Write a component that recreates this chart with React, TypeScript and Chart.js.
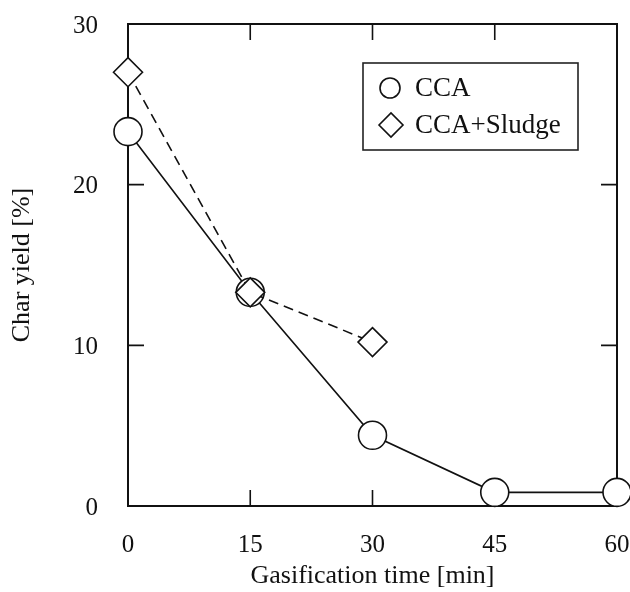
import React, { useEffect, useRef } from "react";
import { Chart, registerables } from "chart.js";

Chart.register(...registerables);

const times = [0, 15, 30, 45, 60];
const ccaYield = [23.3, 13.3, 4.4, 0.85, 0.85];
const sludgeTimes = [0, 15, 30];
const sludgeYield = [27.0, 13.3, 10.2];
const xTicks = [0, 15, 30, 45, 60];
const yTicks = [0, 10, 20, 30];
const seriesLabels = ["CCA", "CCA+Sludge"];

const FONT = "'Liberation Serif', 'Times New Roman', serif";

const zeroPad = (s: any) => {
  s.paddingTop = 0;
  s.paddingBottom = 0;
  s.paddingLeft = 0;
  s.paddingRight = 0;
};

const framePlugin = {
  id: "frame",
  beforeDatasetsDraw(chart: any) {
    const { ctx, chartArea } = chart;
    const { left, right, top, bottom } = chartArea;
    const xs = chart.scales.x;
    const ys = chart.scales.y;
    const tl = 16;
    ctx.save();
    ctx.strokeStyle = "#111";
    ctx.lineWidth = 2;
    ctx.strokeRect(left, top, right - left, bottom - top);
    ctx.lineWidth = 1.6;
    ctx.beginPath();
    xTicks.forEach((v) => {
      const px = xs.getPixelForValue(v);
      if (v === xs.min || v === xs.max) return;
      ctx.moveTo(px, bottom);
      ctx.lineTo(px, bottom - tl);
      ctx.moveTo(px, top);
      ctx.lineTo(px, top + tl);
    });
    yTicks.forEach((v) => {
      const py = ys.getPixelForValue(v);
      if (v === ys.min || v === ys.max) return;
      ctx.moveTo(left, py);
      ctx.lineTo(left + tl, py);
      ctx.moveTo(right, py);
      ctx.lineTo(right - tl, py);
    });
    ctx.stroke();
    ctx.restore();
  },
  afterDatasetsDraw(chart: any) {
    const { ctx, chartArea } = chart;
    const bx = chartArea.left + 235;
    const by = chartArea.top + 39;
    const bw = 215;
    const bh = 87;
    ctx.save();
    ctx.fillStyle = "#fff";
    ctx.fillRect(bx, by, bw, bh);
    ctx.strokeStyle = "#222";
    ctx.lineWidth = 1.6;
    ctx.strokeRect(bx, by, bw, bh);
    const rows = [by + 25, by + 62];
    ctx.lineWidth = 1.6;
    ctx.strokeStyle = "#111";
    ctx.beginPath();
    ctx.arc(bx + 27, rows[0], 10, 0, Math.PI * 2);
    ctx.stroke();
    const dx = bx + 28;
    const dy = rows[1];
    const r = 12;
    ctx.beginPath();
    ctx.moveTo(dx - r, dy);
    ctx.lineTo(dx, dy - r);
    ctx.lineTo(dx + r, dy);
    ctx.lineTo(dx, dy + r);
    ctx.closePath();
    ctx.stroke();
    ctx.fillStyle = "#111";
    ctx.font = `27px ${FONT}`;
    ctx.textBaseline = "middle";
    ctx.textAlign = "left";
    ctx.fillText(seriesLabels[0], bx + 52, rows[0] + 1);
    ctx.fillText(seriesLabels[1], bx + 52, rows[1] + 1);
    ctx.restore();
  },
};

export default function App() {
  const ref = useRef<HTMLCanvasElement | null>(null);
  useEffect(() => {
    if (!ref.current) return;
    const chart = new Chart(ref.current, {
      type: "line",
      data: {
        datasets: [
          {
            label: seriesLabels[0],
            data: times.map((t, i) => ({ x: t, y: ccaYield[i] })),
            borderColor: "#111",
            borderWidth: 1.6,
            backgroundColor: "#fff",
            pointStyle: "circle",
            pointRadius: 14,
            pointBorderWidth: 1.6,
            pointBackgroundColor: "#fff",
            pointBorderColor: "#111",
            clip: false,
            order: 1,
          },
          {
            label: seriesLabels[1],
            data: sludgeTimes.map((t, i) => ({ x: t, y: sludgeYield[i] })),
            borderColor: "#111",
            borderWidth: 1.6,
            borderDash: [10, 6],
            backgroundColor: "#fff",
            pointStyle: "rectRot",
            pointRadius: 14.5,
            pointBorderWidth: 1.6,
            pointBackgroundColor: "#fff",
            pointBorderColor: "#111",
            clip: false,
            order: 0,
          },
        ],
      },
      options: {
        responsive: false,
        animation: false,
        layout: { autoPadding: false, padding: { left: 0, right: 13, top: 24, bottom: 0 } },
        plugins: { legend: { display: false }, tooltip: { enabled: false } },
        scales: {
          x: {
            type: "linear",
            min: 0,
            max: 60,
            afterBuildTicks: (s: any) => {
              s.ticks = xTicks.map((v) => ({ value: v }));
            },
            afterFit: (s: any) => {
              s.height = 86;
              zeroPad(s);
            },
            ticks: {
              color: "#111",
              font: { family: FONT, size: 25 },
              padding: 24,
              maxRotation: 0,
            },
            grid: { display: false, drawTicks: false },
            border: { display: false },
            title: {
              display: true,
              text: "Gasification time [min]",
              color: "#111",
              font: { family: FONT, size: 26 },
              padding: { top: 0, bottom: 0 },
            },
          },
          y: {
            type: "linear",
            min: 0,
            max: 30,
            afterBuildTicks: (s: any) => {
              s.ticks = yTicks.map((v) => ({ value: v }));
            },
            afterFit: (s: any) => {
              s.width = 128;
              zeroPad(s);
            },
            ticks: {
              color: "#111",
              font: { family: FONT, size: 25 },
              padding: 30,
              labelOffset: 2,
            },
            grid: { display: false, drawTicks: false },
            border: { display: false },
            title: {
              display: true,
              text: "Char yield [%]",
              color: "#111",
              font: { family: FONT, size: 26 },
              padding: { top: 7, bottom: 0 },
            },
          },
        },
      },
      plugins: [framePlugin],
    });
    return () => chart.destroy();
  }, []);
  return (
    <div style={{ position: "absolute", left: 0, top: 0, width: 630, height: 592, background: "#fff" }}>
      <canvas ref={ref} width={630} height={592} style={{ display: "block" }} />
    </div>
  );
}
